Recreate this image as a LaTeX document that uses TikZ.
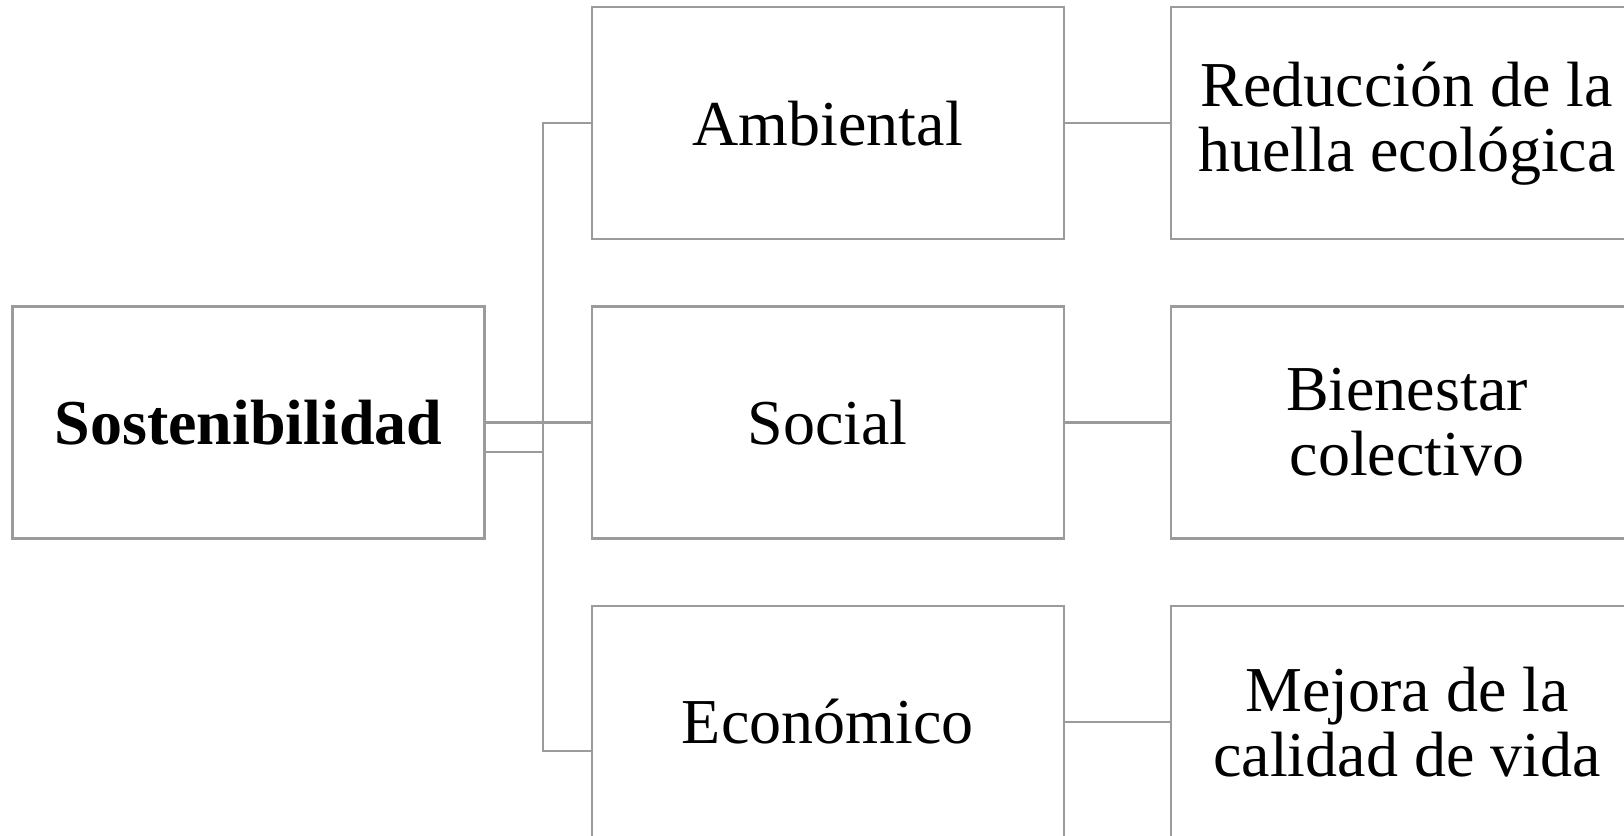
\documentclass[tikz,border=0pt]{standalone}
\usepackage{fontspec}
\setmainfont{Liberation Serif}
\usetikzlibrary{positioning}

\definecolor{linegray}{RGB}{155,155,155}

\begin{document}
\begin{tikzpicture}[x=0.5pt,y=-0.5pt,node distance=33.7pt and 53.6pt,
                    line width=1.2pt]
  \tikzset{box/.style={rectangle,draw=linegray,outer sep=0pt,inner sep=0pt,
                       minimum width=236pt,minimum height=116pt,align=center,
                       font=\fontsize{32}{32.5}\selectfont}}
  \useasboundingbox (0,0) rectangle (1624,836);

  \node[box,font=\fontsize{32}{32.5}\selectfont\bfseries]
                    (sost) at (248.5,422.6)  {Sostenibilidad};
  \node[box]        (soc)  [right=of sost]   {Social};
  \node[box]        (amb)  [above=of soc]    {Ambiental};
  \node[box]        (eco)  [below=of soc]    {Económico};
  \node[box]        (red)  [right=of amb]    {Reducción de la\\huella ecológica};
  \node[box]        (bien) [right=of soc]    {Bienestar\\colectivo};
  \node[box]        (mej)  [right=of eco]    {Mejora de la\\calidad de vida};

  % bus on the left
  \coordinate (bus) at ([xshift=-24.35pt]amb.west);
  \coordinate (tap) at ([yshift=-14.55pt]sost.east);
  \coordinate (eco tap) at ([yshift=-14.55pt]eco.west);
  \draw[linegray] (amb.west) -- (bus) |- (eco tap);
  \draw[linegray] (sost.east) -- (soc.west);
  \draw[linegray] (tap) -- (tap -| bus);

  \draw[linegray] (amb)  -- (red);
  \draw[linegray] (soc)  -- (bien);
  \draw[linegray] (eco)  -- (mej);
\end{tikzpicture}
\end{document}
